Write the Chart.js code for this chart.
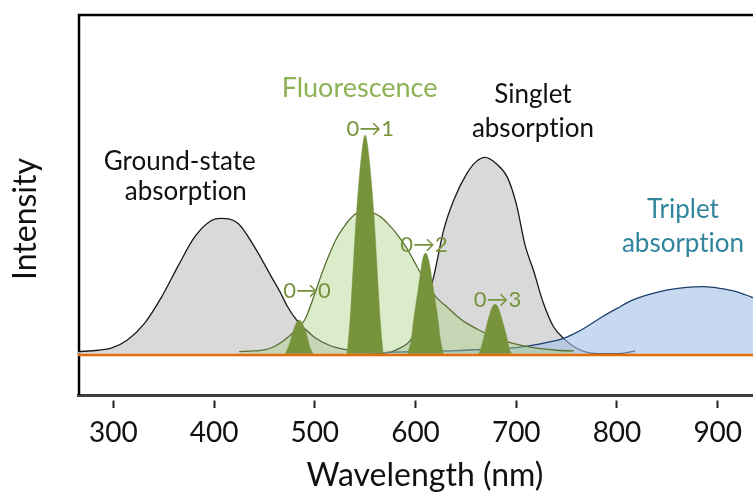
<!DOCTYPE html>
<html><head><meta charset="utf-8">
<script src="https://cdn.jsdelivr.net/npm/chart.js@4/dist/chart.umd.min.js"></script>
<style>html,body{margin:0;padding:0;background:#fff;overflow:hidden}#wrap{width:753px;height:493px}</style>
</head><body><div id="wrap"><canvas id="c" width="753" height="493"></canvas></div>
<script>
// ---- data (wavelength nm, relative intensity) ----
const tickValues = [300, 400, 500, 600, 700, 800, 900];
const tickLabels = ['300', '400', '500', '600', '700', '800', '900'];

const groundX = [265, 285, 298, 314, 331, 348, 364, 381, 397, 407, 424, 440, 457, 466, 473, 482, 499, 515, 532, 550, 565];
const groundY = [0.010, 0.014, 0.020, 0.044, 0.093, 0.171, 0.260, 0.348, 0.395, 0.402, 0.387, 0.319, 0.230, 0.183, 0.142, 0.103, 0.054, 0.028, 0.015, 0.008, 0.005];

const singletX = [565, 572, 583, 595, 606, 618, 628, 638, 651, 660, 669, 680, 691, 700, 709, 717, 727, 737, 747, 760, 777, 800, 818];
const singletY = [0.005, 0.006, 0.018, 0.044, 0.110, 0.230, 0.368, 0.456, 0.534, 0.568, 0.581, 0.563, 0.524, 0.445, 0.320, 0.250, 0.152, 0.083, 0.049, 0.020, 0.005, 0.004, 0.012];

const tripletX = [570, 600, 640, 670, 700, 717, 732, 747, 757, 767, 783, 800, 816, 833, 849, 869, 886, 902, 919, 933, 945];
const tripletY = [0.008, 0.010, 0.013, 0.017, 0.022, 0.029, 0.038, 0.049, 0.062, 0.078, 0.108, 0.137, 0.162, 0.179, 0.191, 0.199, 0.201, 0.196, 0.186, 0.171, 0.157];

const fluorX = [425, 440, 450, 460, 470, 480, 490, 500, 507, 515, 522, 529, 535, 542, 553, 565, 573, 581, 590, 598, 606, 614, 622, 631, 641, 651, 664, 677, 690, 704, 720, 740, 757];
const fluorY = [0.010, 0.012, 0.015, 0.025, 0.044, 0.070, 0.103, 0.180, 0.240, 0.300, 0.345, 0.377, 0.400, 0.417, 0.421, 0.407, 0.385, 0.358, 0.320, 0.279, 0.235, 0.195, 0.165, 0.142, 0.115, 0.093, 0.072, 0.054, 0.040, 0.029, 0.020, 0.014, 0.012];

const peak00X = [470, 474, 477, 481, 484.5, 488, 492.5, 495, 499];
const peak00Y = [0, 0.025, 0.054, 0.090, 0.103, 0.090, 0.054, 0.025, 0];
const peak01X = [532, 535, 539, 541.5, 546.5, 550, 553.5, 558.5, 561, 565, 568];
const peak01Y = [0, 0.10, 0.30, 0.42, 0.59, 0.647, 0.59, 0.42, 0.30, 0.10, 0];
const peak02X = [592, 596, 598, 603, 607, 610, 613, 617.5, 622.5, 624.5, 628];
const peak02Y = [0, 0.05, 0.10, 0.20, 0.28, 0.30, 0.28, 0.20, 0.10, 0.05, 0];
const peak03X = [662, 665, 668, 672, 676, 679, 682, 686, 690.5, 693, 696];
const peak03Y = [0, 0.02, 0.054, 0.103, 0.14, 0.149, 0.14, 0.103, 0.054, 0.02, 0];

const baseX = [265, 935];
const baseY = [0, 0];

// annotation texts and their anchor (data coords); \u200C only stops the "ti" ligature
const noteText = ['Ground-state', 'absorpt\u200Cion', 'Fluorescence', '0\u21921', 'Singlet', 'absorpt\u200Cion', 'Triplet', 'absorpt\u200Cion', '0\u21920', '0\u21922', '0\u21923'];
const noteX = [366, 372, 544.5, 555, 716.6, 716.6, 865.5, 865.5, 492.3, 608.5, 681.4];
const noteY = [0.544, 0.456, 0.759, 0.644, 0.741, 0.640, 0.403, 0.303, 0.169, 0.304, 0.140];
const noteKind = ['dark', 'dark', 'fluo', 'vib', 'dark', 'dark', 'trip', 'trip', 'vib', 'vib', 'vib'];

// ---- styling ----
const FONT = 'Lato, "Open Sans", sans-serif';
const noteStyle = {
  dark: { color: '#111111', size: 26 },
  fluo: { color: '#8db255', size: 27 },
  vib:  { color: '#77933c', size: 22 },
  trip: { color: '#31859c', size: 26 }
};
const pts = (xs, ys) => xs.map((x, i) => ({ x: x, y: ys[i] }));

function curve(xs, ys, fillColor, lineColor, order, lw) {
  return {
    data: pts(xs, ys), order: order, fill: { value: 0.004 },
    backgroundColor: fillColor, borderColor: lineColor, borderWidth: lw,
    pointRadius: 0, cubicInterpolationMode: 'monotone'
  };
}
const PEAK = '#77933c';

const datasets = [
  { data: pts(baseX, baseY), order: 0, borderColor: '#e46c0a', borderWidth: 2.5, pointRadius: 0, fill: false },
  curve(peak00X, peak00Y, PEAK, PEAK, 1, 0.5),
  curve(peak01X, peak01Y, PEAK, PEAK, 1, 0.5),
  curve(peak02X, peak02Y, PEAK, PEAK, 1, 0.5),
  curve(peak03X, peak03Y, PEAK, PEAK, 1, 0.5),
  curve(fluorX, fluorY, 'rgba(170,210,130,0.42)', '#5a7032', 2, 1.3),
  curve(tripletX, tripletY, 'rgba(160,192,230,0.6)', '#1f3f6e', 3, 1.3),
  curve(singletX, singletY, '#d9d9d9', '#1a1a1a', 4, 1.3),
  curve(groundX, groundY, '#d9d9d9', '#1a1a1a', 5, 1.3)
];

const decor = {
  id: 'decor',
  beforeDatasetsDraw(chart) {
    const { ctx, chartArea: a } = chart;
    ctx.save();
    ctx.strokeStyle = '#000'; ctx.lineWidth = 2.5;
    ctx.beginPath();
    ctx.moveTo(a.left + 1, a.bottom); ctx.lineTo(a.left + 1, a.top); ctx.lineTo(a.right, a.top);
    ctx.stroke();
    ctx.restore();
  },
  afterDraw(chart) {
    const { ctx, scales: { x, y } } = chart;
    ctx.save();
    ctx.textAlign = 'center'; ctx.textBaseline = 'alphabetic';
    noteText.forEach((t, i) => {
      const st = noteStyle[noteKind[i]];
      ctx.font = st.size + 'px ' + FONT;
      ctx.fillStyle = st.color;
      ctx.fillText(t, x.getPixelForValue(noteX[i]), y.getPixelForValue(noteY[i]));
    });
    // axis titles
    ctx.fillStyle = '#111';
    ctx.font = '32px ' + FONT;
    ctx.fillText('Wavelength (nm)', 425, 486);
    ctx.translate(36, 219);
    ctx.rotate(-Math.PI / 2);
    ctx.fillText('Intensity', 0, 0);
    ctx.restore();
  }
};

new Chart(document.getElementById('c'), {
  type: 'line',
  data: { datasets: datasets },
  options: {
    responsive: false, animation: false,
    layout: { padding: { left: 78, right: 0, top: 15, bottom: 0 } },
    plugins: { legend: { display: false }, tooltip: { enabled: false } },
    scales: {
      x: {
        type: 'linear', min: 265, max: 935, position: 'bottom',
        afterFit: s => { s.height = 98; },
        afterBuildTicks: s => { s.ticks = tickValues.map(v => ({ value: v })); },
        ticks: {
          autoSkip: false, maxRotation: 0, padding: 8, color: '#111',
          font: { family: FONT, size: 28 },
          callback: (v) => tickLabels[tickValues.indexOf(v)]
        },
        grid: { drawOnChartArea: false, drawTicks: true, tickLength: 13, tickColor: '#222', tickWidth: 2, tickBorderDash: [0, 3.5, 8, 60] },
        border: { display: true, color: '#404040', width: 3 }
      },
      y: { type: 'linear', min: -0.1176, max: 1, display: false }
    }
  },
  plugins: [decor]
});
</script>
</body></html>
